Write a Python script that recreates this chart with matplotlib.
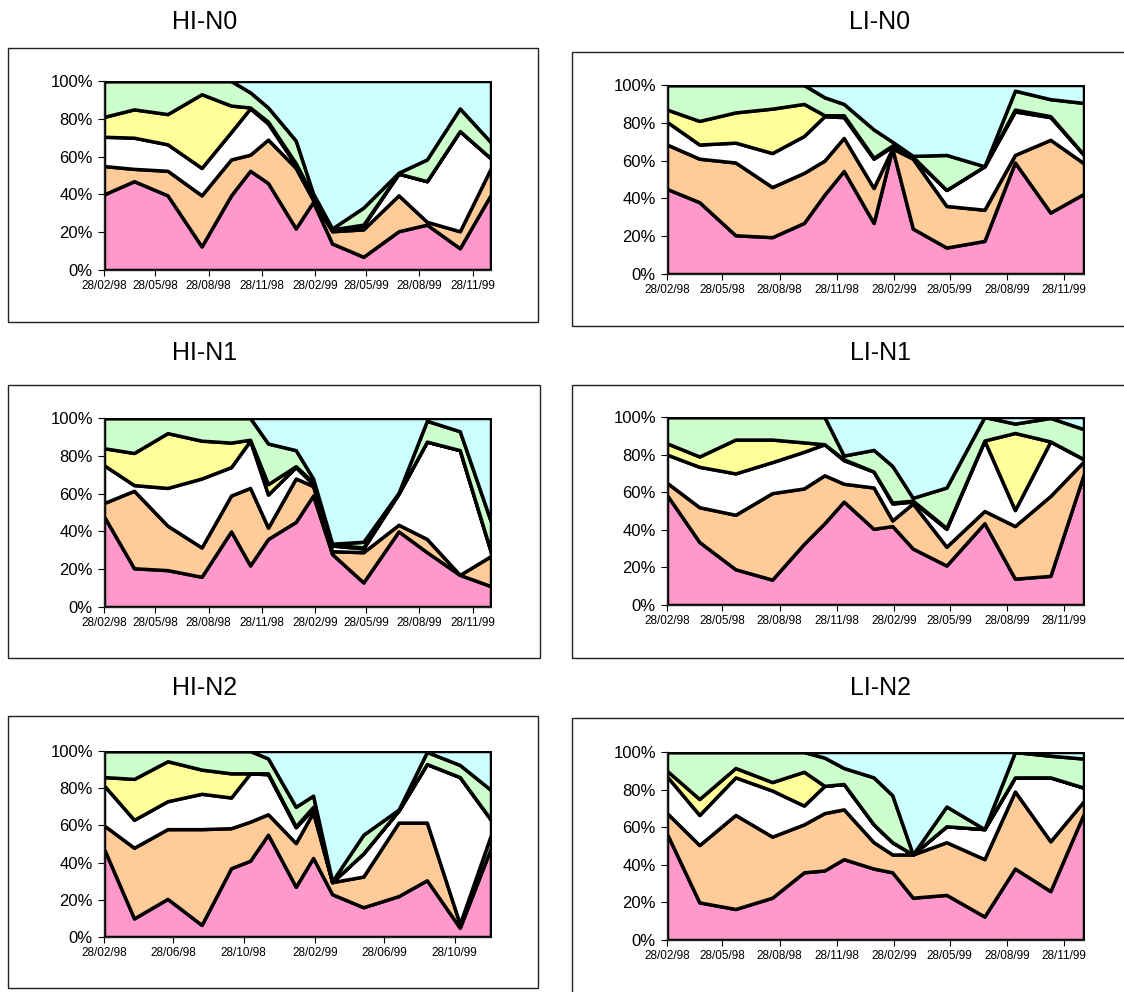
import pandas as pd
import matplotlib
matplotlib.use('Agg')
import matplotlib.pyplot as plt
import matplotlib.dates as mdates
from matplotlib.patches import Rectangle

plt.rcParams['font.family'] = ['Liberation Sans', 'DejaVu Sans']

# sampling dates (same for every plot)
DATES = ['1998-02-28', '1998-04-21', '1998-06-18', '1998-08-16', '1998-10-06',
         '1998-11-08', '1998-12-09', '1999-01-26', '1999-02-25', '1999-03-30',
         '1999-05-23', '1999-07-23', '1999-09-10', '1999-11-06', '1999-12-30']

LAYER_COLORS = ['#FF99CC', '#FFCC99', '#FFFFFF', '#FFFF99', '#CCFFCC', '#CCFFFF']

# shares in % per layer, bottom to top
HI_N0_PINK = [40, 47, 39.5, 12.5, 39.5, 52.5, 46, 22, 36, 14, 7, 20.5, 24, 11.5, 40]
HI_N0_ORANGE = [15, 6.5, 13, 27, 19, 8.5, 23, 32, 1, 6.5, 14.5, 19, 1.5, 9, 14]
HI_N0_WHITE = [15.5, 16.5, 14, 14.5, 14.5, 24.5, 8.5, 1.5, 1, 0.5, 2, 11.5, 21.5, 53, 5]
HI_N0_YELLOW = [10.5, 15, 16, 39, 14, 0.5, 1, 1, 1, 0.5, 0.5, 0, 0, 0, 0]
HI_N0_GREEN = [19, 15, 17.5, 7, 13, 8, 7.5, 12, 1.5, 0.5, 9, 0.5, 11.5, 12, 8.5]
HI_N0_CYAN = [0, 0, 0, 0, 0, 6, 14, 31.5, 59.5, 78, 67, 48.5, 41.5, 14.5, 32.5]

LI_N0_PINK = [45, 38, 20.5, 19.5, 27, 42, 54.5, 27, 66.5, 24, 14, 17.5, 59, 32.5, 42.5]
LI_N0_ORANGE = [23.5, 23, 38.5, 26.5, 26.5, 18, 17.5, 18.5, 0, 37, 22, 16.5, 4, 38.5, 16]
LI_N0_WHITE = [12, 7.5, 10.5, 18, 19.5, 23.5, 11, 15.5, 1, 0.5, 8.5, 23, 23, 12, 4.5]
LI_N0_YELLOW = [6.5, 12.5, 16, 23.5, 17, 0.5, 1, 0.5, 0.5, 0.5, 0, 0, 1, 0.5, 0]
LI_N0_GREEN = [13, 19, 14.5, 12.5, 10, 9.5, 6, 15, 2, 0.5, 18.5, 0, 10, 9, 27.5]
LI_N0_CYAN = [0, 0, 0, 0, 0, 6.5, 10, 23.5, 30, 37.5, 37, 43, 3, 7.5, 9.5]

HI_N1_PINK = [48, 20.5, 19.5, 16, 40, 22, 36, 45, 59, 28, 13, 40, 29, 17, 11]
HI_N1_ORANGE = [7, 41, 23.5, 15.5, 19, 41, 6, 23, 5, 1.5, 16, 3.5, 7, 0, 16]
HI_N1_WHITE = [20, 3, 20, 36.5, 15, 25, 17.5, 6, 1, 3, 2, 16.5, 51.5, 66, 2]
HI_N1_YELLOW = [9, 17, 29, 20, 13, 0.5, 5.5, 0.5, 1, 0.5, 0.5, 0, 0, 0, 0]
HI_N1_GREEN = [16, 18.5, 8, 12, 13, 11.5, 21.5, 8.5, 2, 0.5, 3, 0.5, 11, 10, 16]
HI_N1_CYAN = [0, 0, 0, 0, 0, 0, 13.5, 17, 32, 66.5, 65.5, 39.5, 1.5, 7, 55]

LI_N1_PINK = [58.5, 33.5, 19, 13.5, 32.5, 43.5, 55, 40.5, 42, 30, 21, 43.5, 14, 15.5, 70]
LI_N1_ORANGE = [6.5, 18.5, 29, 46, 29.5, 25.5, 9.5, 22, 3, 24, 10, 6.5, 28, 42.5, 6.5]
LI_N1_WHITE = [15, 21.5, 22, 16.5, 19.5, 16.5, 12.5, 8.5, 9, 1, 9.5, 37.5, 8.5, 29, 1]
LI_N1_YELLOW = [6, 5.5, 18, 12, 5, 0, 0.5, 0, 0.5, 0.5, 0.5, 0, 41, 0, 0]
LI_N1_GREEN = [14, 21, 12, 12, 13.5, 14.5, 2, 11.5, 19.5, 1.5, 21.5, 12.5, 5, 12.5, 16]
LI_N1_CYAN = [0, 0, 0, 0, 0, 0, 20.5, 17.5, 26, 43, 37.5, 0, 3.5, 0.5, 6.5]

HI_N2_PINK = [47.5, 10, 20.5, 6.5, 37, 41, 55, 27, 42.5, 23, 16, 22, 30.5, 5, 48]
HI_N2_ORANGE = [12.5, 38, 37.5, 51.5, 21.5, 21, 11, 23.5, 24.5, 6.5, 16.5, 39.5, 31, 2, 7]
HI_N2_WHITE = [21.5, 15, 15, 19, 16.5, 26, 21.5, 8.5, 2, 0, 12.5, 6.5, 31.5, 79, 8]
HI_N2_YELLOW = [4.5, 22, 21.5, 13, 13, 0, 0.5, 0.5, 1, 0, 0, 0, 0, 0, 0]
HI_N2_GREEN = [14, 15, 5.5, 10, 12, 12, 8, 10.5, 6, 0.5, 10, 0.5, 6.5, 6.5, 16]
HI_N2_CYAN = [0, 0, 0, 0, 0, 0, 4, 30, 24, 70, 45, 31.5, 0.5, 7.5, 21]

LI_N2_PINK = [56.5, 20, 16.5, 22.5, 36, 37, 43, 38, 36, 22.5, 24, 12.5, 38, 26, 67.5]
LI_N2_ORANGE = [11, 30.5, 50, 32.5, 25.5, 30.5, 26.5, 14, 9.5, 23, 28, 30.5, 41, 26.5, 6.5]
LI_N2_WHITE = [19.5, 16, 20, 24.5, 10, 14.5, 13.5, 9.5, 6.5, 0, 8.5, 16, 7.5, 34, 7]
LI_N2_YELLOW = [3, 8.5, 5, 4.5, 18, 0, 0, 0, 0, 0, 0, 0, 0, 0, 0]
LI_N2_GREEN = [10, 25, 8.5, 16, 10.5, 15, 8.5, 25, 25, 0, 10.5, 0, 13.5, 11.5, 15.5]
LI_N2_CYAN = [0, 0, 0, 0, 0, 3, 8.5, 13.5, 23, 54.5, 29, 41, 0, 2, 3.5]

TITLES = ['HI-N0', 'LI-N0', 'HI-N1', 'LI-N1', 'HI-N2', 'LI-N2']
Y_TICKS = [0, 20, 40, 60, 80, 100]

W, H = 1124, 992


def px_rect(x0, y0, x1, y1):
    # pixel box (top-left origin) -> figure fraction
    return [x0 / W, 1 - y1 / H, (x1 - x0) / W, (y1 - y0) / H]


def draw_panel(fig, title, layers, box, plot, title_xy, months):
    fig.patches.append(Rectangle((box[0] / W, 1 - box[3] / H),
                                 (box[2] - box[0]) / W, (box[3] - box[1]) / H,
                                 transform=fig.transFigure, fill=False,
                                 edgecolor='#222222', linewidth=1.0))
    fig.text(title_xy[0] / W, 1 - title_xy[1] / H, title,
             ha='center', va='center', fontsize=18)

    ax = fig.add_axes(px_rect(*plot))
    x = mdates.date2num(pd.to_datetime(DATES))
    ax.stackplot(x, *layers, colors=LAYER_COLORS,
                 edgecolor='black', linewidth=2.5)
    ax.set_xlim(x[0], x[-1])
    ax.set_ylim(0, 100)
    ax.set_yticks(Y_TICKS)
    ax.set_yticklabels([f'{v}%' for v in Y_TICKS], fontsize=12)
    ax.xaxis.set_major_locator(mdates.MonthLocator(bymonth=months, bymonthday=28))
    ax.xaxis.set_major_formatter(mdates.DateFormatter('%d/%m/%y'))
    ax.tick_params(axis='x', labelsize=8.5, length=4, pad=3)
    ax.tick_params(axis='y', length=4, pad=4)
    for side in ('top', 'right'):
        ax.spines[side].set_visible(False)
    for side in ('left', 'bottom'):
        ax.spines[side].set_color('#222222')
        ax.spines[side].set_linewidth(1.0)


def main():
    fig = plt.figure(figsize=(W / 100, H / 100), dpi=100)
    fig.patch.set_facecolor('white')

    panels = [
        [HI_N0_PINK, HI_N0_ORANGE, HI_N0_WHITE, HI_N0_YELLOW, HI_N0_GREEN, HI_N0_CYAN],
        [LI_N0_PINK, LI_N0_ORANGE, LI_N0_WHITE, LI_N0_YELLOW, LI_N0_GREEN, LI_N0_CYAN],
        [HI_N1_PINK, HI_N1_ORANGE, HI_N1_WHITE, HI_N1_YELLOW, HI_N1_GREEN, HI_N1_CYAN],
        [LI_N1_PINK, LI_N1_ORANGE, LI_N1_WHITE, LI_N1_YELLOW, LI_N1_GREEN, LI_N1_CYAN],
        [HI_N2_PINK, HI_N2_ORANGE, HI_N2_WHITE, HI_N2_YELLOW, HI_N2_GREEN, HI_N2_CYAN],
        [LI_N2_PINK, LI_N2_ORANGE, LI_N2_WHITE, LI_N2_YELLOW, LI_N2_GREEN, LI_N2_CYAN],
    ]
    boxes = [(8, 48, 538, 322), (572, 52, 1130, 326),
             (8, 385, 540, 658), (572, 385, 1130, 658),
             (8, 716, 538, 988), (572, 718, 1130, 1000)]
    plots = [(104, 81, 491, 270), (667, 85, 1084, 274),
             (104, 418, 491, 607), (667, 417, 1084, 605),
             (104, 751, 491, 937), (667, 752, 1084, 940)]
    title_pos = [(205, 22), (880, 22), (205, 353), (880, 353), (205, 688), (880, 688)]
    tick_months = [(2, 5, 8, 11)] * 4 + [(2, 6, 10), (2, 5, 8, 11)]

    for i in range(6):
        draw_panel(fig, TITLES[i], panels[i], boxes[i], plots[i],
                   title_pos[i], tick_months[i])

    fig.savefig('out.png', dpi=100)


if __name__ == '__main__':
    main()
